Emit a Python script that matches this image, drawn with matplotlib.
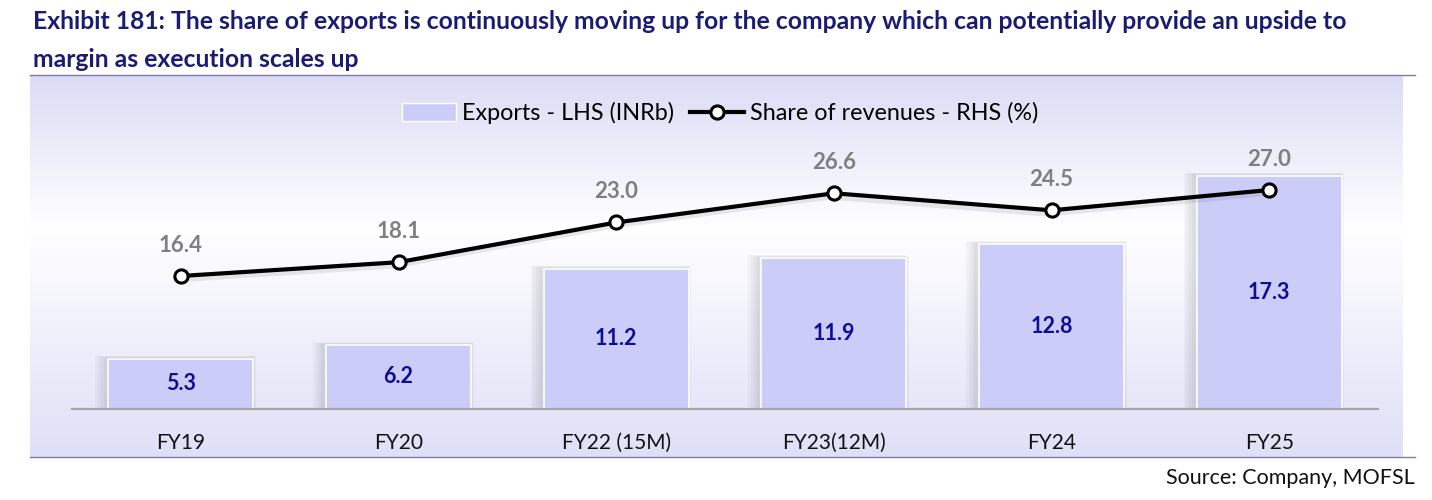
import matplotlib
matplotlib.use("Agg")
import matplotlib.pyplot as plt
import numpy as np
from matplotlib.lines import Line2D
from matplotlib.patches import Patch

categories = ["FY19", "FY20", "FY22 (15M)", "FY23(12M)", "FY24", "FY25"]
exports = [5.3, 6.2, 11.2, 11.9, 12.8, 17.3]
share = [16.4, 18.1, 23.0, 26.6, 24.5, 27.0]

title = ("Exhibit 181: The share of exports is continuously moving up for the company which can potentially provide an upside to\n"
         "margin as execution scales up")
source = "Source: Company, MOFSL"

W, H = 1432, 500
FONT = "Lato"
plt.rcParams['font.family'] = [FONT, 'DejaVu Sans']

fig = plt.figure(figsize=(W / 100, H / 100), dpi=100)
fig.patch.set_facecolor("white")


def fx(x):
    return x / W


def fy(y):
    return 1 - y / H


# gradient background panel
bg = fig.add_axes([fx(30), fy(457), (1403 - 30) / W, (457 - 75) / H])
top_c = np.array([0.86, 0.86, 0.965])
mid_c = np.array([1.0, 1.0, 1.0])
bot_c = np.array([0.875, 0.875, 0.97])
n = 400
t = np.linspace(0, 1, n)
grad = np.zeros((n, 1, 3))
for i, tt in enumerate(t):
    if tt < 0.4:
        f = tt / 0.4
        c = top_c * (1 - f) + mid_c * f
    else:
        f = (tt - 0.4) / 0.6
        c = mid_c * (1 - f) + bot_c * f
    grad[i, 0, :] = c
bg.imshow(grad, aspect="auto", extent=[0, 1, 0, 1], origin="upper")
bg.set_axis_off()

# separator lines
for yy in (75, 457):
    fig.add_artist(Line2D([fx(30), fx(1415)], [fy(yy), fy(yy)], color="#7A7AAE", lw=1.0))

# main axes
ax = fig.add_axes([fx(72), fy(409), (1378 - 72) / W, (409 - 104) / H])
ax.patch.set_alpha(0)
x = np.arange(len(categories))
bar_w = 0.665
bar_color = "#CCCCF8"

# soft shadows
for k in range(4):
    ax.bar(x - 0.012 - 0.004 * k, np.array(exports) + 0.08 + 0.04 * k, width=bar_w + 0.02 + 0.018 * k,
           color="#606070", alpha=0.05, lw=0, zorder=1)
ax.bar(x, exports, width=bar_w, color=bar_color, edgecolor="white", lw=1.2, zorder=2)
ax.set_xlim(-0.5, 5.5)
ax.set_ylim(2, 22)
for v, xx in zip(exports, x):
    ax.text(xx, (2 + v) / 2, f"{v:.1f}", ha="center", va="center", fontsize=15.5,
            fontweight="bold", color="#0D0D96", zorder=5)

for s in ["top", "left", "right"]:
    ax.spines[s].set_visible(False)
ax.spines["bottom"].set_color("#A6A6A6")
ax.spines["bottom"].set_linewidth(1.6)
ax.set_yticks([])
ax.set_xticks(x)
ax.set_xticklabels(categories, fontsize=15, color="#111111")
ax.tick_params(axis="x", length=0, pad=17)

ax2 = ax.twinx()
ax2.set_ylim(0, 305 / 8.11)
ax2.set_yticks([])
for s in ["top", "left", "right", "bottom"]:
    ax2.spines[s].set_visible(False)
# line shadow
ax2.plot(x - 0.02, np.array(share) - 0.35, color="#505060", lw=5, alpha=0.12, zorder=3,
         solid_capstyle="round")
ax2.plot(x, share, color="black", lw=3, marker="o", markersize=9.5, markerfacecolor="white",
         markeredgecolor="black", markeredgewidth=2.2, zorder=4)
for v, xx in zip(share, x):
    ax2.annotate(f"{v:.1f}", (xx, v), xytext=(0, 22), textcoords="offset points",
                 ha="center", va="center", fontsize=16, fontweight="bold", color="#7F7F7F")

# legend
handles = [Patch(facecolor=bar_color, edgecolor="white", lw=1.0),
           Line2D([0], [0], color="black", lw=3, marker="o", markersize=9.5,
                  markerfacecolor="white", markeredgecolor="black", markeredgewidth=2.2)]
labels = ["Exports - LHS (INRb)", "Share of revenues - RHS (%)"]
fig.legend(handles, labels, loc="center", bbox_to_anchor=(fx(720), fy(113)), ncol=2,
           frameon=False, fontsize=16.8, handlelength=2.3, handleheight=0.8,
           columnspacing=0.7, handletextpad=0.25)

# title and source
fig.text(fx(33), fy(10), title, ha="left", va="top", fontsize=17.8, fontweight="bold",
         color="#1B1B72", linespacing=1.78)
fig.text(fx(1415), fy(478), source, ha="right", va="center", fontsize=15.5, color="#111111")

fig.savefig("out.png", dpi=100, facecolor="white")
